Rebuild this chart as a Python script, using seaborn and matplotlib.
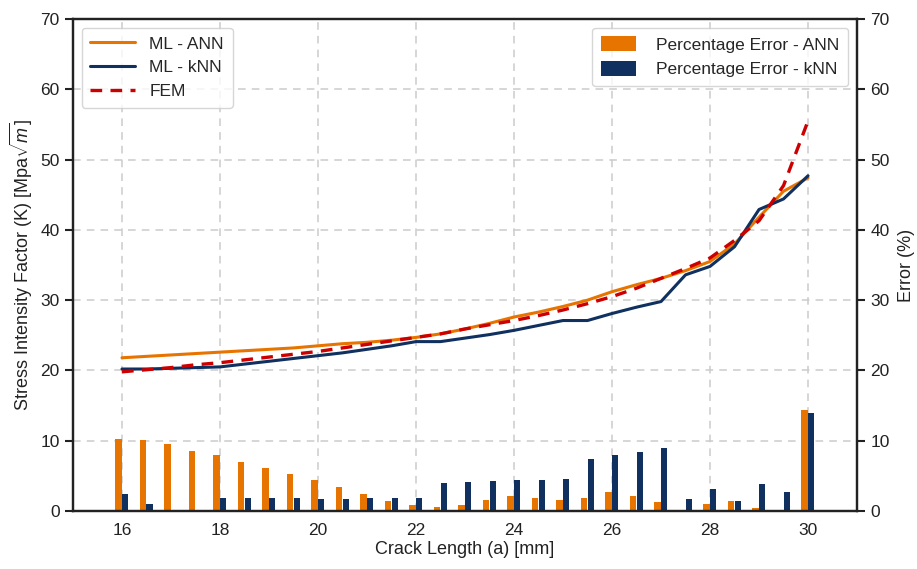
import numpy as np
import pandas as pd
import matplotlib
matplotlib.use("Agg")
import matplotlib.pyplot as plt
import seaborn as sns

crack_length = [16, 16.5, 17, 17.5, 18, 18.5, 19, 19.5, 20, 20.5, 21, 21.5, 22, 22.5,
                23, 23.5, 24, 24.5, 25, 25.5, 26, 26.5, 27, 27.5, 28, 28.5, 29, 29.5, 30]
k_ann = [21.8, 22.0, 22.2, 22.4, 22.6, 22.8, 23.0, 23.2, 23.5, 23.8, 24.0, 24.3, 24.7, 25.2,
         25.9, 26.7, 27.6, 28.3, 29.1, 30.0, 31.2, 32.2, 33.1, 34.2, 35.5, 38.0, 41.8, 45.5, 47.4]
k_knn = [20.2, 20.2, 20.3, 20.4, 20.5, 20.9, 21.3, 21.7, 22.1, 22.5, 23.0, 23.5, 24.1, 24.1,
         24.6, 25.1, 25.7, 26.4, 27.1, 27.1, 28.1, 29.0, 29.8, 33.6, 34.8, 37.6, 42.9, 44.4, 47.7]
k_fem = [19.8, 20.1, 20.4, 20.8, 21.1, 21.5, 21.9, 22.3, 22.7, 23.2, 23.7, 24.2, 24.7, 25.2,
         25.9, 26.5, 27.1, 27.8, 28.6, 29.5, 30.5, 31.7, 33.1, 34.5, 36.0, 38.5, 41.3, 46.3, 55.5]
err_ann = [10.2, 10.1, 9.5, 8.6, 7.9, 7.0, 6.1, 5.2, 4.4, 3.4, 2.4, 1.4, 0.85, 0.5,
           0.85, 1.5, 2.1, 1.8, 1.5, 1.9, 2.65, 2.1, 1.3, 0.0, 1.0, 1.4, 0.4, 0.15, 14.3]
err_knn = [2.4, 0.95, 0.15, 0.2, 1.8, 1.8, 1.8, 1.8, 1.7, 1.7, 1.8, 1.8, 1.8, 4.0,
           4.1, 4.3, 4.4, 4.4, 4.6, 7.4, 7.9, 8.4, 9.0, 1.65, 3.1, 1.4, 3.9, 2.65, 14.0]

ORANGE = "#E87400"
NAVY = "#10305F"
RED = "#CC0000"

sns.set_theme(style="ticks")
plt.rcParams['font.family'] = ['Liberation Sans', 'DejaVu Sans']
plt.rcParams['mathtext.fontset'] = 'custom'
plt.rcParams['mathtext.rm'] = 'Liberation Sans'
plt.rcParams['mathtext.it'] = 'Liberation Sans:italic'

df = pd.DataFrame({"a": crack_length, "ANN": k_ann, "kNN": k_knn, "FEM": k_fem,
                   "eANN": err_ann, "eKNN": err_knn})

fig = plt.figure(figsize=(9.17, 5.69), dpi=100)
ax = fig.add_axes([0.0796, 0.102, 0.855, 0.8645])
ax2 = ax.twinx()

ax.set_zorder(ax2.get_zorder() + 1)
ax.patch.set_visible(False)

x = np.array(crack_length)
w = 0.13
ax2.bar(x - 0.075, err_ann, width=w, color=ORANGE, edgecolor="none", linewidth=0,
        label="Percentage Error - ANN")
ax2.bar(x + 0.065, err_knn, width=w, color=NAVY, edgecolor="none", linewidth=0,
        label="Percentage Error - kNN")

sns.lineplot(data=df, x="a", y="ANN", ax=ax, color=ORANGE, lw=2.2, label="ML - ANN")
sns.lineplot(data=df, x="a", y="kNN", ax=ax, color=NAVY, lw=2.2, label="ML - kNN")
sns.lineplot(data=df, x="a", y="FEM", ax=ax, color=RED, lw=2.4, ls=(0, (3.5, 2.5)), label="FEM")

for a in (ax, ax2):
    a.set_xlim(15, 31)
    a.set_ylim(0, 70)
    a.set_yticks(range(0, 71, 10))
    a.set_xticks(range(16, 31, 2))
    for s in a.spines.values():
        s.set_linewidth(1.6)
        s.set_color("#222222")
    a.tick_params(axis='y', length=6, width=1.5, labelsize=12.5, colors="#222222")
    a.tick_params(axis='x', length=0, labelsize=12.5, pad=9, colors="#222222")

ax2.xaxis.set_visible(True)
ax2.tick_params(axis='x', labelbottom=False, bottom=False, top=False, labeltop=False)

ax.grid(False)
ax2.grid(True, ls=(0, (5, 4)), color="#cccccc", lw=1.1)
ax2.set_axisbelow(True)

ax.set_xlabel("Crack Length (a) [mm]", fontsize=13, color="#222222", labelpad=2)
ax.set_ylabel(r"Stress Intensity Factor (K) [Mpa$\sqrt{m}$]", fontsize=13, color="#222222", labelpad=4)
ax2.set_ylabel("Error (%)", fontsize=13, color="#222222", labelpad=6)

leg1 = ax.legend(loc="upper left", fontsize=12.5, frameon=True, fancybox=True,
                 borderpad=0.5, handlelength=2.6, bbox_to_anchor=(0.0, 1.0))
leg1.get_frame().set_edgecolor("#cccccc")
leg2 = ax2.legend(loc="upper right", fontsize=12.5, frameon=True, fancybox=True,
                  borderpad=0.5, handlelength=2.0, handleheight=0.9, handletextpad=1.2,
                  bbox_to_anchor=(1.0, 1.0))
leg2.get_frame().set_edgecolor("#cccccc")

fig.savefig("out.png", dpi=100)
